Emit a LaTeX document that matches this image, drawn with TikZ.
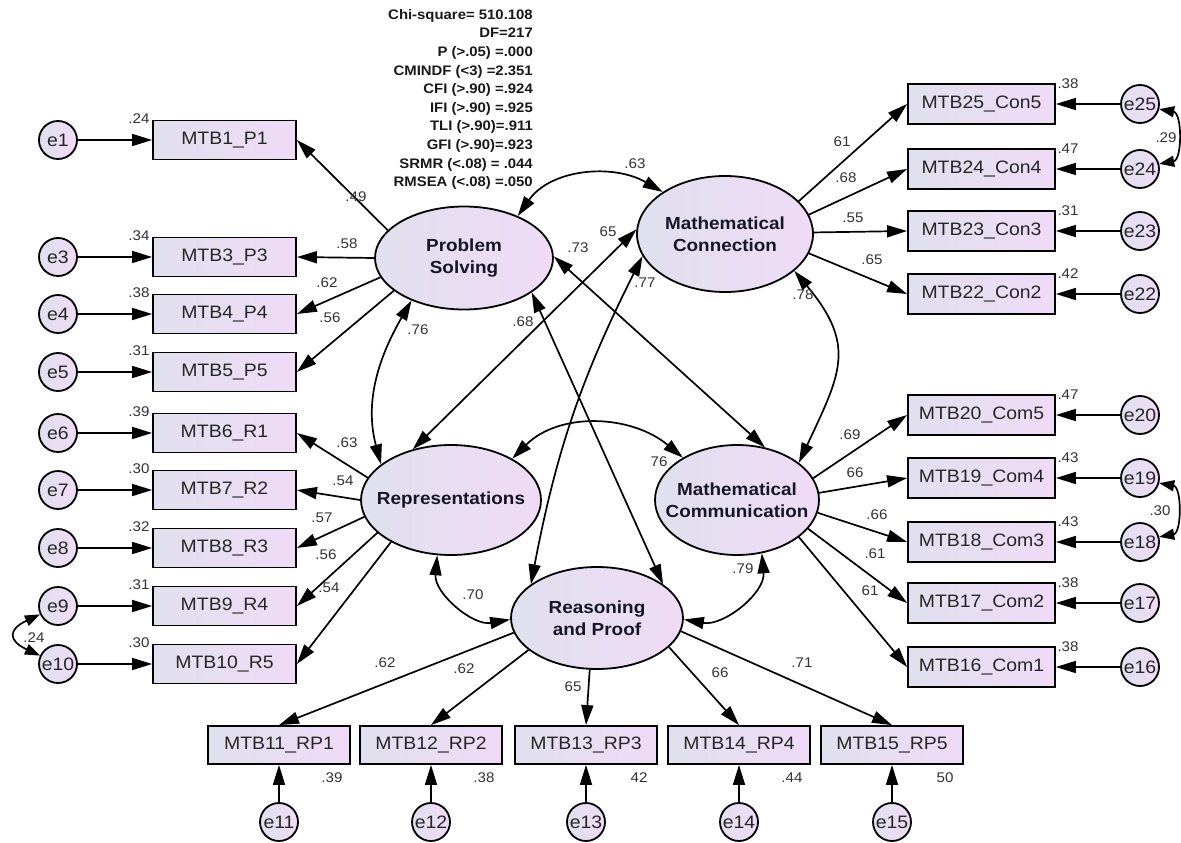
\documentclass[tikz,border=0pt]{standalone}
\usepackage{fontspec}
\setmainfont{Liberation Sans}[FakeStretch=1.08]
\usetikzlibrary{shapes.geometric,arrows.meta}
\definecolor{lavL}{RGB}{224,224,238}
\definecolor{lavR}{RGB}{240,219,247}
\definecolor{labc}{RGB}{50,50,55}
\definecolor{latc}{RGB}{22,22,40}
\tikzset{
  amos/.tip={Triangle[length=20pt,width=12pt]},
  amoss/.tip={Triangle[length=15pt,width=11pt]},
  obs/.style={draw, line width=1.8pt, minimum width=143pt, minimum height=39pt, inner sep=0pt,
    left color=lavL, right color=lavR, font=\fontsize{18}{20}\selectfont, text=black!85},
  lat/.style={ellipse, draw, line width=1.8pt, inner sep=0pt, left color=lavL, right color=lavR},
  lattext/.style={font=\bfseries\fontsize{17.5}{22}\selectfont, align=center, text=latc, inner sep=0pt},
  err/.style={circle, draw, line width=1.8pt, minimum size=38pt, inner sep=0pt,
    left color=lavL, right color=lavR, font=\fontsize{18}{20}\selectfont, text=black!85},
  arr/.style={line width=1.7pt, -amos},
  cov/.style={line width=1.7pt, amos-amos},
  ecov/.style={line width=1.7pt, amoss-amoss},
  lab/.style={font=\fontsize{14}{16}\selectfont, text=labc, inner sep=0pt},
}
\begin{document}
\begin{tikzpicture}[x=1pt,y=1pt]
\useasboundingbox (0,0) rectangle (1181,-843);
\fill[white] (0,0) rectangle (1181,-843);

% fit statistics
\node[font=\bfseries\fontsize{13.8}{18.6}\selectfont, align=right, anchor=north east, inner sep=0pt, text=black!90] (fit) at (533,-9)
 {Chi-square= 510.108\\DF=217\\P (>.05) =.000\\CMINDF (<3) =2.351\\CFI (>.90) =.924\\IFI (>.90) =.925\\TLI (>.90)=.911\\GFI (>.90)=.923\\SRMR (<.08) = .044\\RMSEA (<.08) =.050};

% latent variables
\node[lat, minimum width=178pt, minimum height=103pt] (PS) at (464,-258) {};
\node[lattext] (PSt) at (PS) {Problem\\Solving};
\node[lat, minimum width=176pt, minimum height=116pt] (MC) at (725,-234) {};
\node[lattext] (MCt) at (MC) {Mathematical\\Connection};
\node[lat, minimum width=180pt, minimum height=110pt] (R) at (451,-500) {};
\node[lattext] (Rt) at (R) {Representations};
\node[lat, minimum width=164pt, minimum height=110pt] (Com) at (737,-500) {};
\node[lattext] (Comt) at (Com) {Mathematical\\Communication};
\node[lat, minimum width=172pt, minimum height=102pt] (RP) at (597,-618) {};
\node[lattext] (RPt) at (RP) {Reasoning\\and Proof};

% left indicators
\foreach \n/\t/\y/\v in {1/MTB1\_P1/140/.24, 3/MTB3\_P3/257/.34, 4/MTB4\_P4/314/.38, 5/MTB5\_P5/372/.31,
  6/MTB6\_R1/433/.39, 7/MTB7\_R2/490/.30, 8/MTB8\_R3/548/.32, 9/MTB9\_R4/606/.31, 10/MTB10\_R5/664/.30}{
  \node[obs] (b\n) at (224.5,-\y) {\t};
  \node[err] (e\n) at (58,-\y) {e\n};
  \node[lab] (v\n) at (139,-\y+21) {\v};
  \draw[arr] (e\n) -- (b\n.west);
}
% right indicators
\foreach \n/\t/\y/\v in {25/MTB25\_Con5/104/.38, 24/MTB24\_Con4/169/.47, 23/MTB23\_Con3/231/.31, 22/MTB22\_Con2/294/.42,
  20/MTB20\_Com5/415/.47, 19/MTB19\_Com4/478/.43, 18/MTB18\_Com3/542/.43, 17/MTB17\_Com2/603/.38, 16/MTB16\_Com1/667/.38}{
  \node[obs, minimum width=147pt, minimum height=40pt] (b\n) at (981.5,-\y) {\t};
  \node[err] (e\n) at (1140,-\y) {e\n};
  \node[lab] (v\n) at (1068,-\y+20) {\v};
  \draw[arr] (e\n) -- (b\n.east);
}
% bottom indicators
\foreach \n/\t/\x/\v in {11/MTB11\_RP1/279/.39, 12/MTB12\_RP2/431/.38, 13/MTB13\_RP3/586/42, 14/MTB14\_RP4/739/.44, 15/MTB15\_RP5/892/50}{
  \node[obs, minimum width=142pt, minimum height=38pt] (b\n) at (\x,-745) {\t};
  \node[err] (e\n) at (\x,-822) {e\n};
  \node[lab] (v\n) at (\x+53,-778) {\v};
  \draw[arr] (e\n) -- (b\n.south);
}

% loadings
\draw[arr] (PS.160) -- (b1.east);
\draw[arr] (PS.180) -- (b3.east);
\draw[arr] (PS.193) -- (b4.east);
\draw[arr] (PS.205) -- (b5.east);
\draw[arr] (R.165) -- (b6.east);
\draw[arr] (R.180) -- (b7.east);
\draw[arr] (R.191) -- (b8.east);
\draw[arr] (R.204) -- (b9.east);
\draw[arr] (R.215) -- (b10.east);
\draw[arr] (MC.24) -- (b25.west);
\draw[arr] (MC.13) -- (b24.west);
\draw[arr] (MC.1) -- (b23.west);
\draw[arr] (MC.-13) -- (b22.west);
\draw[arr] (Com.16) -- (b20.west);
\draw[arr] (Com.5) -- (b19.west);
\draw[arr] (Com.-9) -- (b18.west);
\draw[arr] (Com.-22) -- (b17.west);
\draw[arr] (Com.-31) -- (b16.west);
\draw[arr] (RP.190) -- (b11.north);
\draw[arr] (RP.205) -- (b12.north);
\draw[arr] (RP.262) -- (b13.north);
\draw[arr] (RP.-22) -- (b14.north);
\draw[arr] (RP.-9) -- (b15.north);

% covariances among latent variables
\draw[cov] (PS.38) to[out=55,in=150] (MC.146);
\draw[cov] (PS.219) to[out=240,in=105] (R.153);
\draw[cov] (R.127) -- (MC.177);
\draw[cov] (PS.1) -- (Com.62);
\draw[cov] (MC.195) to[bend right=8] (RP.153);
\draw[cov] (PS.333) -- (RP.27);
\draw[cov] (MC.332) to[out=-50,in=65,looseness=1.3] (Com.31);
\draw[cov] (R.34) to[out=45,in=140] (Com.142);
\draw[cov] (R.256) to[out=265,in=190] (RP.181);
\draw[cov] (Com.295) to[out=-85,in=-10] (RP.-1);

% covariances among errors
\draw[ecov] (e9.205) to[out=205,in=155,looseness=2.2] (e10.155);
\draw[ecov] (e25.-15) to[out=-10,in=10,looseness=1.1] (e24.15);
\draw[ecov] (e19.-15) to[out=-10,in=10,looseness=1.1] (e18.15);

% loading and covariance labels
\foreach \t/\x/\y [count=\i] in {.49/356/197, .58/347/244, .62/327/283, .56/330/318,
  .63/347/443, .54/343/481, .57/322/518, .56/326/555, .54/329/588,
  61/842/142, .68/846/178, .55/853/218, .65/872/260,
  .69/850/435, 66/855/473, .66/877/515, .61/875/554, 61/870/591,
  .62/385/663, .62/464/669, 65/573/687, 66/720/673, .71/802/663,
  .63/635/164, .76/418/330, .73/578/248, 65/608/232, .68/523/322, .77/645/283, .78/803/295,
  76/659/462, .70/473/595, .79/743/569, .24/34/638, .29/1166/138, .30/1160/511}{
  \node[lab] (lab\i) at (\x,-\y) {\t};
}
\end{tikzpicture}
\end{document}
